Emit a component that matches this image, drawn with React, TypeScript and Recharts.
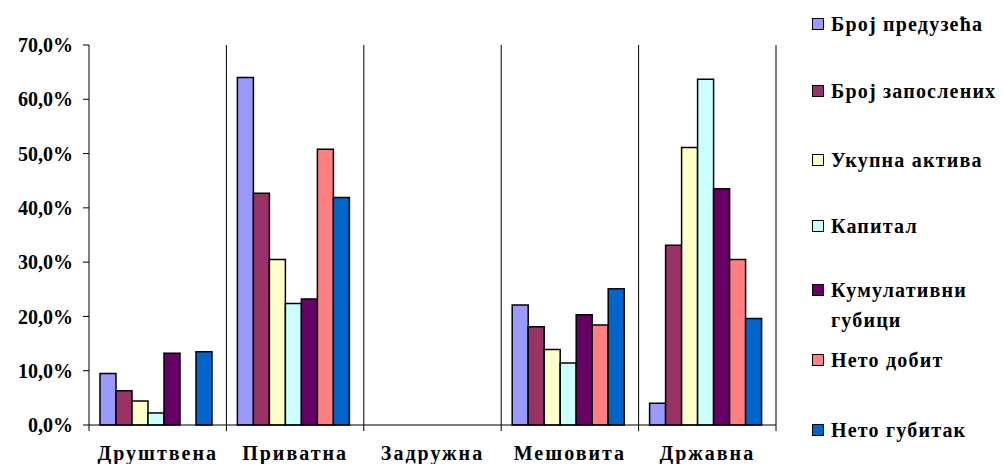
import React from 'react';
import { BarChart, Bar, XAxis, YAxis, CartesianGrid } from 'recharts';

const categories = ['Друштвена', 'Приватна', 'Задружна', 'Мешовита', 'Државна'];

const seriesNames = [
  'Број предузећа',
  'Број запослених',
  'Укупна актива',
  'Капитал',
  'Кумулативни губици',
  'Нето добит',
  'Нето губитак',
];

const seriesColors = ['#9999FF', '#993366', '#FFFFCC', '#CCFFFF', '#660066', '#FF8080', '#0066CC'];

// values per category, in series order
const brojPreduzeca = [9.5, 64.0, 0, 22.1, 4.0];
const brojZaposlenih = [6.3, 42.7, 0, 18.1, 33.1];
const ukupnaAktiva = [4.4, 30.5, 0, 13.9, 51.1];
const kapital = [2.2, 22.4, 0, 11.4, 63.7];
const kumulativniGubici = [13.2, 23.2, 0, 20.3, 43.5];
const netoDobit = [0, 50.8, 0, 18.4, 30.5];
const netoGubitak = [13.5, 41.9, 0, 25.1, 19.6];

const yTicks = [0, 10, 20, 30, 40, 50, 60, 70];

const seriesValues = [
  brojPreduzeca,
  brojZaposlenih,
  ukupnaAktiva,
  kapital,
  kumulativniGubici,
  netoDobit,
  netoGubitak,
];

const data = categories.map((name, i) => {
  const row: Record<string, string | number> = { name };
  seriesNames.forEach((s, j) => {
    row[s] = seriesValues[j][i];
  });
  return row;
});

// layout
const CHART_W = 1002;
const CHART_H = 464;
const Y_AXIS_W = 89;
const RIGHT_M = 226;
const PLOT_W = CHART_W - Y_AXIS_W - RIGHT_M;
const legendTops = [9, 76, 145, 211, 275, 345, 415];

const font = 'Liberation Serif';
const X_TICK_SIZE = 6;
const X_TICK_MARGIN = 15;

// category label plus the boundary tick marks below the axis
const CategoryTick = (props: any) => {
  const { x, y, payload, index } = props;
  const half = PLOT_W / categories.length / 2;
  const axisY = y - X_TICK_SIZE - X_TICK_MARGIN;
  const isLast = index === categories.length - 1;
  return (
    <g>
      <line x1={x - half} x2={x - half} y1={axisY} y2={axisY + 6} stroke="#000" />
      {isLast && <line x1={x + half} x2={x + half} y1={axisY} y2={axisY + 6} stroke="#000" />}
      <text
        x={x}
        y={y}
        dy="0.71em"
        textAnchor="middle"
        fill="#000"
        fontSize={20}
        fontWeight="bold"
        fontFamily={font}
        letterSpacing={2}
      >
        {payload.value}
      </text>
    </g>
  );
};

const Legend7 = () => (
  <div style={{ position: 'absolute', left: 812, top: 0, width: 190, height: 464, fontFamily: font }}>
    {seriesNames.map((s, i) => (
      <div
        key={s}
        style={{ position: 'absolute', top: legendTops[i], left: 0, display: 'flex', alignItems: 'flex-start' }}
      >
        <div
          style={{
            width: 10,
            height: 10,
            marginTop: 9,
            background: seriesColors[i],
            border: '1.5px solid #000',
            flexShrink: 0,
          }}
        />
        <div
          style={{
            marginLeft: 7,
            fontSize: 20,
            fontWeight: 'bold',
            lineHeight: '30px',
            letterSpacing: 1.2,
            maxWidth: 168,
            whiteSpace: s.length > 16 ? 'normal' : 'nowrap',
            flexShrink: 0,
            color: '#000',
          }}
        >
          {s}
        </div>
      </div>
    ))}
  </div>
);

const App = () => {
  return (
    <div
      style={{
        position: 'absolute',
        left: 0,
        top: 0,
        width: CHART_W,
        height: CHART_H,
        background: '#fff',
        overflow: 'hidden',
      }}
    >
      <BarChart
        width={CHART_W}
        height={CHART_H}
        data={data}
        margin={{ top: 45, right: RIGHT_M, bottom: 0, left: 0 }}
        barCategoryGap="8%"
        barGap={0}
      >
        <CartesianGrid
          horizontal={false}
          vertical
          stroke="#000"
          strokeWidth={1}
          verticalCoordinatesGenerator={({ offset }: any) =>
            categories.map((_, i) => offset.left + ((i + 1) * offset.width) / categories.length)
          }
        />
        <XAxis
          dataKey="name"
          height={39}
          axisLine={{ stroke: '#000' }}
          tickLine={{ stroke: 'none' }}
          tickSize={X_TICK_SIZE}
          tickMargin={X_TICK_MARGIN}
          interval={0}
          tick={<CategoryTick />}
        />
        <YAxis
          width={Y_AXIS_W}
          domain={[0, 70]}
          ticks={yTicks}
          axisLine={{ stroke: '#000' }}
          tickLine={{ stroke: '#000' }}
          tickSize={6}
          tickMargin={10}
          tickFormatter={(v) => `${v.toFixed(1).replace('.', ',')}%`}
          tick={{ fill: '#000', fontSize: 20, fontWeight: 'bold', fontFamily: font }}
        />
        {seriesNames.map((s, i) => (
          <Bar
            key={s}
            dataKey={s}
            fill={seriesColors[i]}
            stroke="#000"
            strokeWidth={1.5}
            isAnimationActive={false}
          />
        ))}
      </BarChart>
      <Legend7 />
    </div>
  );
};

export default App;
